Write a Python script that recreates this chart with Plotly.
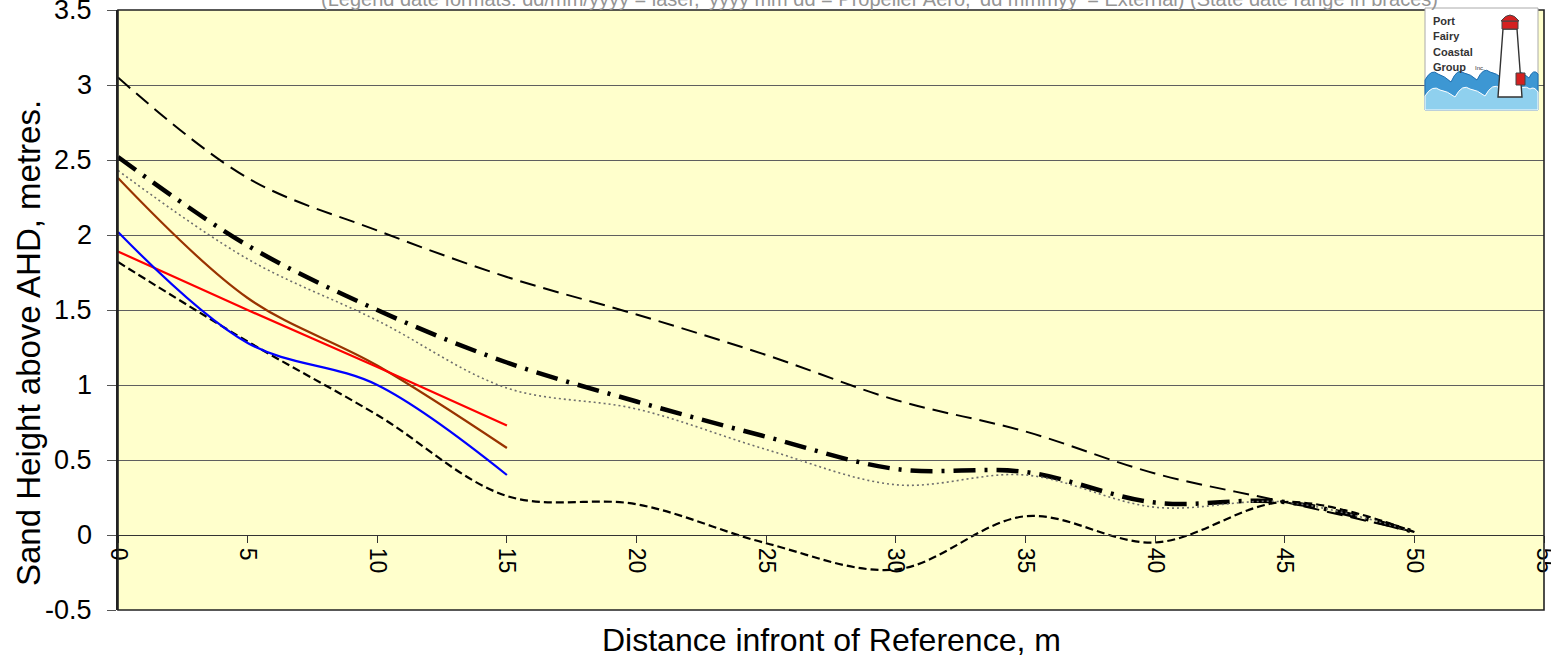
import plotly.graph_objects as go

# ---------------- data ----------------
x_long = [0, 5, 10, 15, 20, 25, 30, 35, 40, 45, 50]
x_short = [0, 5, 10, 15]

y_longdash = [3.05, 2.38, 2.03, 1.72, 1.47, 1.20, 0.90, 0.69, 0.41, 0.22, 0.02]
y_dashdot = [2.52, 1.93, 1.50, 1.15, 0.89, 0.655, 0.44, 0.42, 0.216, 0.22, 0.02]
y_dotted = [2.43, 1.84, 1.43, 0.98, 0.84, 0.57, 0.335, 0.40, 0.185, 0.22, 0.02]
y_shortdash = [1.82, 1.29, 0.80, 0.26, 0.205, -0.055, -0.23, 0.125, -0.05, 0.22, 0.02]
y_brown = [2.38, 1.58, 1.13, 0.58]
y_red = [1.89, 1.50, 1.12, 0.73]
y_blue = [2.02, 1.28, 1.00, 0.40]

x_ticks = [0, 5, 10, 15, 20, 25, 30, 35, 40, 45, 50, 55]
y_ticks = [-0.5, 0, 0.5, 1, 1.5, 2, 2.5, 3, 3.5]

note_text = ("(Legend date formats: dd/mm/yyyy = laser, 'yyyy mm dd = Propeller Aero, "
             "'dd mmmyy' = External) (State date range in braces)")
x_title = "Distance infront of Reference, m"
y_title = "Sand Height above AHD, metres."
logo_lines = ["Port", "Fairy", "Coastal", "Group"]

# ---------------- figure ----------------
W, H = 1551, 656
L, R, T, B = 118, 7, 10, 46
PW, PH = W - L - R, H - T - B


def px(x):
    return (x - L) / PW


def py(y):
    return (H - B - y) / PH


fig = go.Figure()

series = [
    (x_long, y_longdash, dict(color="black", width=2, dash="16px,8px")),
    (x_long, y_dashdot, dict(color="black", width=4.5, dash="22px,9px,3px,9px")),
    (x_long, y_dotted, dict(color="#6e6e6e", width=1.6, dash="2px,3px")),
    (x_long, y_shortdash, dict(color="black", width=2.2, dash="8px,4px")),
    (x_short, y_brown, dict(color="#993300", width=2.2)),
    (x_short, y_red, dict(color="#ff0000", width=2.2)),
    (x_short, y_blue, dict(color="#0000ff", width=2.2)),
]
for xs, ys, ln in series:
    fig.add_trace(go.Scatter(x=xs, y=ys, mode="lines", line=dict(shape="spline", smoothing=1.0, **ln),
                             showlegend=False, hoverinfo="skip"))

fig.update_layout(
    width=W, height=H,
    margin=dict(l=L, r=R, t=T, b=B, autoexpand=False),
    paper_bgcolor="white",
    plot_bgcolor="#ffffcc",
    font=dict(family="Arial, Liberation Sans, sans-serif", color="black"),
    showlegend=False,
    xaxis=dict(
        range=[0, 55], tickvals=x_ticks, ticktext=[str(v) for v in x_ticks],
        anchor="free", position=0.125, showline=True, linecolor="#333333", linewidth=1.2,
        ticks="outside", ticklen=7, tickcolor="#333333", tickwidth=1.2,
        tickangle=90, tickfont=dict(size=23), showgrid=False, zeroline=False,
        ticklabeloverflow="allow", automargin=False,
    ),
    yaxis=dict(
        range=[-0.5, 3.5], tickvals=y_ticks, showticklabels=False,
        showline=True, linecolor="#222222", linewidth=1.5,
        ticks="outside", ticklen=9, tickcolor="#555555", tickwidth=1.2,
        showgrid=True, gridcolor="#5f5f5f", gridwidth=1.2,
        zeroline=False, automargin=False,
    ),
)

shapes = [
    dict(type="rect", xref="paper", yref="paper", x0=0, x1=1, y0=0, y1=1,
         line=dict(color="#222222", width=1.6), layer="above"),
]

# ---- logo (decorative approximation) ----
lx0, lx1, ly0, ly1 = 1425, 1538, 8, 110
shapes.append(dict(type="rect", xref="paper", yref="paper", x0=px(lx0), x1=px(lx1), y0=py(ly1), y1=py(ly0),
                   fillcolor="white", line=dict(color="#aaaaaa", width=1), layer="above"))
pts = [(1425, 80), (1438, 74), (1451, 82), (1464, 73), (1477, 80), (1490, 72), (1503, 79), (1516, 71),
       (1529, 78), (1538, 74)]
wave = "M {} {} ".format(px(lx0), py(ly1))
wave += "L {} {} ".format(px(pts[0][0]), py(pts[0][1]))
for i in range(1, len(pts)):
    wave += "Q {} {} {} {} ".format(px((pts[i - 1][0] + pts[i][0]) / 2), py(pts[i][1] - 6),
                                    px(pts[i][0]), py(pts[i][1]))
wave += "L {} {} Z".format(px(lx1), py(ly1))
shapes.append(dict(type="path", xref="paper", yref="paper", path=wave,
                   fillcolor="#3d97d3", line=dict(color="#1f6fb0", width=1), layer="above"))
pts2 = [(1425, 96), (1440, 90), (1455, 97), (1470, 89), (1485, 96), (1500, 88), (1515, 95), (1530, 89),
        (1538, 92)]
wave2 = "M {} {} ".format(px(lx0), py(ly1))
wave2 += "L {} {} ".format(px(pts2[0][0]), py(pts2[0][1]))
for i in range(1, len(pts2)):
    wave2 += "Q {} {} {} {} ".format(px((pts2[i - 1][0] + pts2[i][0]) / 2), py(pts2[i][1] - 6),
                                     px(pts2[i][0]), py(pts2[i][1]))
wave2 += "L {} {} Z".format(px(lx1), py(ly1))
shapes.append(dict(type="path", xref="paper", yref="paper", path=wave2,
                   fillcolor="#8fd0ee", line=dict(color="#ffffff", width=1), layer="above"))
tower = "M {} {} L {} {} L {} {} L {} {} Z".format(px(1503), py(29), px(1517), py(29), px(1522), py(97),
                                                  px(1498), py(97))
shapes.append(dict(type="path", xref="paper", yref="paper", path=tower,
                   fillcolor="white", line=dict(color="#333333", width=1.4), layer="above"))
shapes.append(dict(type="rect", xref="paper", yref="paper", x0=px(1502), x1=px(1518), y0=py(29), y1=py(21),
                   fillcolor="#d42020", line=dict(color="#444444", width=1), layer="above"))
shapes.append(dict(type="path", xref="paper", yref="paper",
                   path="M {} {} Q {} {} {} {} Z".format(px(1501), py(21), px(1510), py(9), px(1519), py(21)),
                   fillcolor="#d42020", line=dict(color="#444444", width=1), layer="above"))
shapes.append(dict(type="rect", xref="paper", yref="paper", x0=px(1516), x1=px(1525), y0=py(85), y1=py(73),
                   fillcolor="#d42020", line=dict(color="#444444", width=1), layer="above"))
fig.update_layout(shapes=shapes)

annotations = [
    dict(text=note_text, xref="paper", yref="paper", x=px(879), y=py(-1), xanchor="center", yanchor="middle",
         showarrow=False, font=dict(size=20, color="#959595")),
    dict(text=x_title, xref="paper", yref="paper", x=0.5, y=py(640), xanchor="center", yanchor="middle",
         showarrow=False, font=dict(size=32)),
    dict(text=y_title, xref="paper", yref="paper", x=px(29), y=py(343), xanchor="center", yanchor="middle",
         textangle=-90, showarrow=False, font=dict(size=33)),
]
# y tick labels placed on the y scale
for v in y_ticks:
    annotations.append(dict(text="%g" % v, xref="paper", yref="y", x=px(94), y=v, xanchor="right",
                            yanchor="middle", showarrow=False, font=dict(size=27)))
logo_y = [21, 36, 52, 67]
for t, yy in zip(logo_lines, logo_y):
    annotations.append(dict(text="<b>" + t + "</b>", xref="paper", yref="paper", x=px(1431), y=py(yy),
                            xanchor="left", yanchor="middle", showarrow=False,
                            font=dict(size=11, color="#333333")))
annotations.append(dict(text="Inc.", xref="paper", yref="paper", x=px(1473), y=py(68),
                        xanchor="left", yanchor="middle", showarrow=False, font=dict(size=6, color="#333333")))
fig.update_layout(annotations=annotations)

fig.write_html("out.html", config={"displayModeBar": False},
               post_script="document.body.style.margin='0';")
